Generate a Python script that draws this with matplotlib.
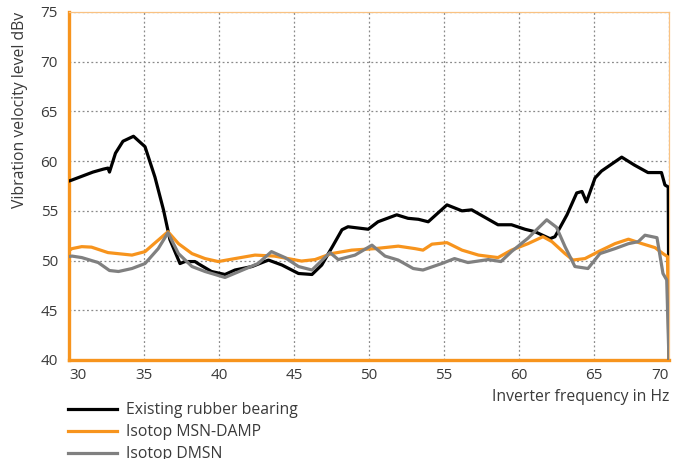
import matplotlib
matplotlib.use('Agg')
import matplotlib.pyplot as plt

plt.rcParams['font.family'] = ['Open Sans', 'DejaVu Sans']

# Existing rubber bearing
x_rubber = [30.0, 30.2, 30.9, 31.6, 32.3, 32.6, 32.7, 33.1, 33.6, 34.3, 35.07, 35.73, 36.3, 36.73,
            37.4, 37.73, 38.4, 38.6, 39.5, 40.4, 41.07, 42.2, 43.3, 44.2, 45.3, 46.2, 46.85,
            47.6, 48.2, 48.6, 49.95, 50.6, 51.85, 52.6, 53.3, 53.95, 55.2, 56.2, 56.85,
            58.6, 59.5, 60.4, 61.07, 62.07, 62.4, 63.2, 63.85, 64.2, 64.5, 65.07, 65.5,
            66.85, 67.7, 68.6, 69.5, 69.73, 69.95, 70.0]
y_rubber = [58.0, 58.1, 58.5, 58.9, 59.2, 59.3, 58.9, 60.8, 62.0, 62.5, 61.45, 58.4, 55.1, 52.1,
            49.7, 49.9, 49.9, 49.7, 48.9, 48.6, 49.05, 49.4, 50.05, 49.55, 48.7, 48.6, 49.55,
            51.5, 53.1, 53.4, 53.15, 53.9, 54.6, 54.25, 54.15, 53.9, 55.6, 55.0, 55.1,
            53.6, 53.6, 53.15, 52.9, 52.2, 52.4, 54.6, 56.8, 56.95, 55.9, 58.3, 59.0,
            60.4, 59.6, 58.85, 58.85, 57.6, 57.4, 40.0]

# Isotop MSN-DAMP
x_damp = [30.0, 30.2, 30.85, 31.5, 32.6, 34.2, 35.07, 35.6, 36.6, 37.3, 38.2, 39.07, 39.95,
          41.07, 42.4, 43.7, 45.5, 46.4, 47.5, 48.85, 50.4, 51.95, 53.07, 53.6, 54.2, 55.2,
          56.2, 57.3, 58.6, 59.5, 60.6, 61.6, 62.2, 63.07, 63.6, 64.4, 65.3, 66.4, 67.3,
          68.2, 69.07, 69.6, 69.9, 70.0]
y_damp = [51.0, 51.2, 51.4, 51.35, 50.8, 50.55, 50.9, 51.6, 52.9, 51.7, 50.7, 50.2, 49.9,
          50.2, 50.55, 50.45, 49.95, 50.1, 50.7, 51.05, 51.2, 51.45, 51.2, 51.05, 51.65, 51.8,
          51.05, 50.55, 50.3, 51.05, 51.7, 52.4, 51.9, 50.7, 50.05, 50.2, 50.9, 51.7, 52.15,
          51.7, 51.3, 50.7, 50.4, 40.0]

# Isotop DMSN
x_dmsn = [30.0, 30.2, 30.85, 31.95, 32.7, 33.3, 34.2, 35.07, 35.95, 36.6, 37.3, 38.2, 39.07,
          40.4, 41.5, 42.6, 43.5, 44.4, 45.3, 46.2, 47.4, 47.95, 49.07, 50.2, 51.07, 51.95,
          52.95, 53.6, 54.85, 55.7, 56.6, 57.95, 58.8, 59.5, 60.6, 61.85, 62.5, 63.07, 63.73,
          64.6, 65.4, 66.4, 67.3, 67.95, 68.4, 69.2, 69.6, 69.85, 70.0]
y_dmsn = [50.4, 50.45, 50.3, 49.8, 49.0, 48.9, 49.2, 49.7, 51.2, 52.8, 50.7, 49.4, 48.9,
          48.3, 49.0, 49.7, 50.9, 50.3, 49.4, 49.05, 50.8, 50.1, 50.55, 51.55, 50.45, 50.05,
          49.2, 49.05, 49.7, 50.2, 49.8, 50.1, 49.9, 50.9, 52.25, 54.1, 53.35, 51.4, 49.4,
          49.2, 50.7, 51.2, 51.7, 51.9, 52.55, 52.3, 48.7, 48.05, 40.0]

orange = '#F7941D'
txt = '#3a3a3a'

fig = plt.figure(figsize=(6.85, 4.59), dpi=100)
ax = fig.add_axes([0.1007, 0.2157, 0.8759, 0.7582])

ax.plot(x_rubber, y_rubber, color='black', lw=2.3, label='Existing rubber bearing', zorder=3)
ax.plot(x_damp, y_damp, color=orange, lw=2.3, label='Isotop MSN-DAMP', zorder=3)
ax.plot(x_dmsn, y_dmsn, color='#808080', lw=2.3, label='Isotop DMSN', zorder=3)

ax.set_xlim(30, 70)
ax.set_ylim(40, 75)
ax.set_xticks(range(30, 71, 5))
ax.set_yticks(range(40, 76, 5))
ax.grid(True, color='#8a8a8a', linestyle=(0, (1.5, 2)), lw=0.9)
ax.tick_params(length=0, labelsize=11, colors=txt)
ax.tick_params(axis='y', pad=8)
ax.tick_params(axis='x', pad=6)
lbls = ax.get_xticklabels()
lbls[0].set_ha('left')
lbls[-1].set_ha('right')

ax.spines['left'].set_color(orange)
ax.spines['bottom'].set_color(orange)
ax.spines['left'].set_linewidth(2.4)
ax.spines['bottom'].set_linewidth(2.4)
ax.spines['top'].set_color('#F9C282')
ax.spines['right'].set_color('#F9C282')
ax.spines['top'].set_linewidth(0.9)
ax.spines['right'].set_linewidth(0.9)

ax.set_xlabel('Inverter frequency in Hz', loc='right', fontsize=11.3, color=txt, labelpad=4)
ax.set_ylabel('Vibration velocity level dBv', loc='top', fontsize=11.3, color=txt, labelpad=9)

fig.legend(loc='upper left', bbox_to_anchor=(0.0993, 0.124), frameon=False, fontsize=11.3,
           handlelength=3.1, labelspacing=0.38, borderpad=0, borderaxespad=0, handletextpad=0.6,
           labelcolor=txt)

fig.savefig('out.png', dpi=100)
